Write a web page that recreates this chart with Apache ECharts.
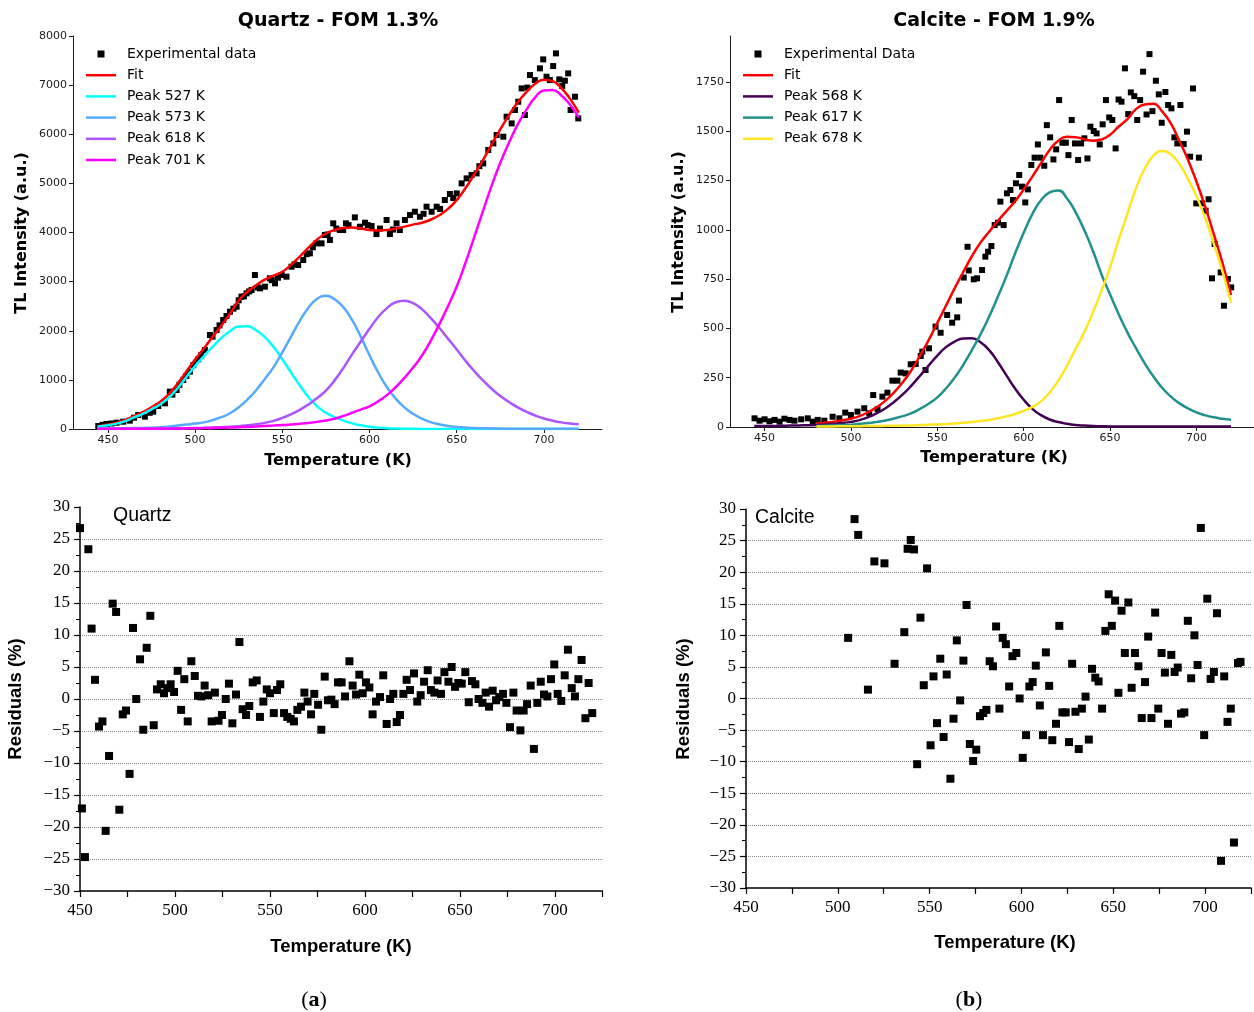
<!DOCTYPE html>
<html>
<head>
<meta charset="utf-8">
<script src="https://cdn.jsdelivr.net/npm/echarts@6/dist/echarts.min.js"></script>
<style>html,body{margin:0;padding:0;background:#fff}#chart{width:1254px;height:1012px}</style>
</head>
<body>
<div id="chart"></div>
<script>
// ---------- Temperature grid for the fitted curves (K) ----------
const T = [444,450,455,460,465,470,475,480,485,490,495,500,505,510,515,520,525,530,535,540,545,550,555,560,565,570,575,580,585,590,595,600,605,610,615,620,625,630,635,640,645,650,655,660,665,670,675,680,685,690,695,700,705,710,715,720];
const T2 = [480,485,490,495,500,505,510,515,520,525,530,535,540,545,550,555,560,565,570,575,580,585,590,595,600,605,610,615,620,625,630,635,640,645,650,655,660,665,670,675,680,685,690,695,700,705,710,715,720];

// ---------- Quartz TL curves ----------
const qFit = [57,91,128,183,263,344,443,553,712,926,1170,1415,1637,1872,2103,2345,2614,2798,2926,3040,3120,3200,3340,3510,3690,3860,3980,4050,4090,4100,4080,4050,4040,4050,4080,4120,4160,4200,4260,4350,4480,4660,4900,5180,5470,5790,6100,6390,6650,6860,7030,7110,7080,6940,6720,6440];
const qPeak527 = [45,75,110,160,235,310,400,500,640,830,1060,1280,1480,1670,1850,1990,2085,2090,2010,1870,1670,1420,1150,890,650,460,330,240,170,115,75,45,28,17,10,6,4,2,2,1,1,1,1,1,1,1,1,1,1,1,1,1,1,1,1,1];
const qPeak573 = [8,10,12,15,18,22,28,35,50,70,90,110,135,180,240,320,440,600,790,1020,1260,1560,1880,2200,2470,2650,2710,2640,2480,2220,1880,1500,1150,850,620,440,310,210,140,95,62,42,30,20,15,10,8,6,5,5,4,4,3,3,3,3];
const qPeak618 = [2,3,3,4,5,6,8,10,12,14,17,20,24,30,37,45,58,75,95,125,165,225,300,390,500,630,780,990,1240,1520,1780,2040,2280,2460,2580,2610,2560,2440,2260,2060,1840,1620,1390,1180,990,820,670,550,440,350,275,215,170,135,110,95];
const qPeak701 = [2,3,3,4,5,6,7,8,10,12,13,15,18,22,26,30,36,43,51,60,69,80,92,107,124,145,172,210,265,330,395,460,565,690,850,1040,1250,1490,1790,2130,2500,2900,3380,3900,4430,4950,5420,5830,6200,6500,6750,6890,6900,6790,6600,6340];

// ---------- Calcite TL curves ----------
const cPeak568 = [5,5,5,6,7,8,9,10,13,16,20,26,35,50,70,95,127,165,210,260,312,362,405,433,449,450,430,390,330,262,195,138,92,60,38,25,16,10,7,5,4,3,2,2,2,2,2,2,2,2,2,2,2,2,2,2];
const cPeak617 = [5,6,8,10,12,16,20,26,33,43,55,70,92,118,150,195,250,315,390,470,560,660,765,880,985,1080,1150,1190,1200,1160,1090,1000,895,775,672,572,480,400,324,257,200,155,121,95,74,60,49,42,37];
const cPeak678 = [3,3,3,4,4,4,5,5,6,6,7,8,10,11,13,15,18,21,25,30,36,44,54,66,82,102,130,175,235,310,395,480,580,690,810,950,1080,1210,1310,1375,1400,1385,1335,1260,1170,1060,930,790,630];
const cFit = [18,22,27,34,42,55,75,101,134,176,227,288,362,441,528,615,703,786,866,935,990,1045,1095,1145,1205,1270,1338,1405,1452,1472,1470,1460,1452,1458,1482,1524,1562,1612,1636,1639,1602,1542,1453,1357,1244,1119,979,834,669];

// ---------- Experimental data (T [K], TL [a.u.]) ----------
const qExp = [[444.5,61],[447,85],[449.2,102],[452,112],[455,129],[458.8,149],[462.6,170],[465,230],[467.4,285],[471.2,251],[474,330],[476,353],[478.9,468],[482.7,522],[485.5,760],[487,700],[489.4,794],[491,900],[493.2,997],[495,1080],[497,1167],[499,1300],[501.8,1418],[503.5,1500],[505.6,1608],[508.5,1913],[510,1880],[512.3,2015],[514,2110],[516.1,2219],[518,2300],[520,2388],[522,2450],[523.8,2490],[525,2620],[526.6,2694],[528,2700],[529.5,2761],[531,2800],[532.4,2829],[534.3,3135],[536,2880],[537.2,2863],[540,2897],[542.9,3067],[544,3030],[545.8,2965],[547.5,3080],[549.6,3135],[552.4,3101],[555.3,3304],[557,3350],[559.1,3338],[562,3440],[564,3560],[565.8,3576],[567.5,3700],[569.6,3779],[572.5,3779],[574.4,3949],[576,3960],[577.3,3847],[579.2,4186],[581,4080],[583,4051],[584.9,4050],[586.5,4186],[588,4150],[591.6,4308],[594.5,4118],[597.4,4199],[599,4150],[601.2,4131],[604,3968],[606,4080],[609.8,4254],[611.7,3968],[613.5,4060],[615.5,4186],[617.4,4050],[620.3,4254],[623.2,4355],[626,4423],[628.9,4321],[631,4380],[632.7,4525],[635.6,4423],[638.5,4525],[640.5,4480],[643.2,4661],[646.1,4783],[648,4700],[650,4796],[652.8,5000],[655.7,5102],[658.5,5170],[661.4,5203],[663,5350],[665.2,5407],[668.1,5679],[671,5814],[672.9,5984],[676.7,5950],[678.6,6357],[681.5,6221],[683.4,6493],[685.3,6662],[687.2,6934],[689.1,6391],[690.5,6950],[692,7205],[694.8,7103],[697.7,7341],[699.6,7524],[701.5,7171],[703.4,7103],[705.3,7388],[706.9,7646],[708.8,7117],[710.5,6980],[712,7090],[713.9,7239],[715.3,6493],[717.8,6764],[719.7,6323]];
const cExp = [[444.2,44],[447.1,32],[450,39],[452.9,29],[455.8,36],[458.7,27],[461.5,42],[464.4,36],[467.3,32],[471.2,39],[475,44],[477.9,27],[480.8,36],[484.6,32],[489.4,52],[493.3,44],[496.7,73],[500,61],[503.8,78],[507.7,95],[510.6,69],[512.9,162],[515.4,90],[518.2,154],[521.1,174],[524,235],[526.9,235],[528.8,276],[531.7,272],[534.6,318],[537.5,320],[540.4,360],[541.3,382],[543.2,289],[545.2,399],[549,509],[551.9,478],[555.7,568],[558.6,529],[561.5,556],[562.5,641],[565.3,758],[567.5,914],[568.2,794],[571.1,749],[573,754],[575.9,796],[577.8,864],[579.4,889],[581.3,918],[583.2,1024],[585.1,1036],[586.5,1143],[588.4,1024],[590.3,1185],[592.3,1202],[593.8,1151],[595.5,1236],[597.4,1278],[599,1219],[600.9,1139],[602.4,1205],[604.4,1329],[606.3,1366],[608.2,1433],[609.6,1366],[611.9,1325],[613.4,1531],[615.3,1469],[617.2,1357],[618.8,1408],[620.5,1658],[622.4,1442],[624.4,1442],[625.9,1379],[627.8,1557],[629.7,1438],[631.5,1354],[633.2,1438],[635.1,1464],[636.9,1362],[638.6,1523],[640.5,1501],[642.2,1489],[644,1433],[645.7,1535],[647.6,1658],[649.5,1570],[651.3,1557],[653.2,1413],[654.9,1661],[656.6,1650],[658.6,1819],[660.5,1587],[662,1697],[664,1678],[665.7,1557],[667.4,1658],[669.1,1802],[671.1,1585],[672.8,1891],[674.5,1602],[676.5,1756],[678.2,1687],[679.9,1543],[682,1699],[683.6,1633],[685.5,1616],[687.2,1469],[688.9,1438],[690.7,1633],[692.6,1435],[694.5,1498],[696.3,1371],[698,1717],[699.9,1134],[701.4,1366],[703.2,1134],[705.3,1097],[707,1155],[709,754],[710.5,928],[714,784],[715.9,615],[718.2,751],[720.1,708]];

// ---------- Residuals (T [K], %) ----------
const qRes = [[450,26.7],[451,-17.1],[452.6,-24.7],[454.4,23.4],[456.1,11.0],[457.9,3.0],[460,-4.3],[461.8,-3.5],[463.5,-20.6],[465.3,-8.9],[467.2,14.9],[469,13.6],[470.7,-17.3],[472.5,-2.4],[474.2,-1.8],[476.1,-11.7],[477.9,11.1],[479.6,0.0],[481.6,6.2],[483.3,-4.8],[485.1,8.0],[487,13.0],[488.8,-4.1],[490.5,1.5],[492.5,2.3],[494.2,0.9],[496,1.7],[497.7,2.3],[499.5,1.1],[501.4,4.4],[503.2,-1.7],[504.9,3.1],[506.7,-3.5],[508.6,5.9],[510.4,3.6],[512.1,0.5],[513.9,0.4],[515.6,2.1],[517.5,0.6],[519.3,-3.5],[521,1.0],[522.9,-3.4],[524.7,-2.5],[526.7,0.0],[528.4,2.4],[530.2,-3.8],[532.1,0.7],[533.9,8.9],[535.6,-1.6],[537.4,-2.5],[539.1,-1.1],[540.9,2.6],[543,2.9],[544.7,-2.8],[546.5,-0.4],[548.3,1.5],[550,0.9],[552,-2.2],[553.7,1.4],[555.4,2.3],[557.4,-2.2],[559.1,-2.8],[560.9,-3.1],[562.6,-3.5],[564.4,-1.7],[566.3,-1.2],[568.1,1.0],[569.8,-0.4],[571.6,-2.4],[573.3,0.8],[575.3,-0.9],[577,-4.8],[578.8,3.5],[580.5,-0.2],[582.3,-0.1],[584,-0.8],[585.8,2.6],[587.7,2.6],[589.5,0.4],[591.8,5.9],[593.5,2.1],[595.3,0.7],[597,3.8],[598.8,0.9],[600.5,2.6],[602.3,1.8],[604,-2.4],[605.8,-0.4],[607.9,0.3],[609.6,3.7],[611.4,-3.9],[613.2,0],[614.9,0.8],[616.7,-3.6],[618.4,-2.5],[620.2,0.8],[621.9,3.0],[623.7,1.4],[625.8,4.0],[627.5,-0.4],[629.3,0.6],[631.1,2.7],[633,4.5],[634.7,1.4],[636.5,1.0],[638.2,2.9],[640,0.8],[641.8,4.2],[643.9,2.7],[645.6,5.0],[647.4,1.9],[649.1,2.5],[650.9,2.4],[652.8,4.2],[654.6,-0.5],[656.3,2.8],[658.1,2.3],[659.8,0],[661.8,-0.6],[663.5,1.0],[665.3,-1.2],[667.2,1.3],[669,-0.2],[670.7,0.3],[672.6,0.8],[674.4,-0.6],[676.3,-4.4],[678.1,1.0],[679.8,-1.8],[681.8,-4.9],[683.5,-1.8],[685.3,-0.8],[687.2,2.1],[688.9,-7.8],[690.7,-0.6],[692.5,2.7],[694.2,0.7],[696,0.4],[697.9,3.1],[699.6,5.4],[701.4,0.8],[703.3,-0.3],[705.1,3.7],[706.8,7.7],[708.8,1.7],[710.5,0.4],[712.3,3.1],[714,6.1],[716,-3.0],[717.7,2.5],[719.6,-2.2]];
const cRes = [[505.6,9.6],[509.1,28.4],[511.1,25.9],[516.4,1.4],[519.9,21.7],[525.4,21.4],[530.9,5.5],[536.2,10.5],[538,23.7],[539.7,25.1],[541.5,23.6],[543.2,-10.4],[545,12.8],[546.8,2.1],[548.6,20.6],[550.5,-7.4],[552.1,3.5],[554,-3.9],[555.8,6.3],[557.6,-6.1],[559.3,3.8],[561.3,-12.7],[563,-3.2],[564.8,9.2],[566.6,-0.3],[568.4,6.0],[570.1,14.8],[571.9,-7.2],[573.7,-9.9],[575.4,-8.1],[577.4,-2.8],[579.2,-2.3],[580.9,-1.8],[582.7,5.9],[584.5,5.1],[586.2,11.4],[588,-1.6],[589.8,9.6],[591.5,8.6],[593.3,1.9],[595.1,6.7],[597.2,7.2],[599,0],[600.7,-9.4],[602.5,-5.8],[604.3,1.9],[606.1,2.6],[607.8,5.2],[610,-1.1],[611.7,-5.8],[613.3,7.3],[615.1,2.0],[616.8,-6.6],[618.8,-4.0],[620.6,11.5],[622.3,-2.2],[624.1,-2.2],[625.9,-6.9],[627.6,5.5],[629.4,-2.1],[631.2,-8.0],[632.9,-1.6],[634.9,0.3],[636.7,-6.5],[638.4,4.7],[640.2,3.3],[642,2.7],[643.9,-1.6],[645.7,10.7],[647.5,16.5],[649.2,11.5],[651,15.5],[652.8,0.9],[654.5,13.9],[656.3,7.2],[658.2,15.2],[660,1.7],[661.8,7.2],[663.7,5.1],[665.5,-3.1],[667.3,2.6],[669,9.8],[670.8,-3.1],[672.8,13.6],[674.5,-1.6],[676.3,7.2],[678.1,4.1],[679.8,-4.0],[681.6,6.9],[683.4,4.2],[685.1,4.9],[686.9,-2.4],[688.7,-2.2],[690.6,12.3],[692.4,3.2],[694.2,10.0],[695.9,5.3],[697.7,27.0],[699.5,-5.8],[701.2,15.8],[703,3.1],[704.8,4.2],[706.5,13.5],[708.7,-25.7],[710.4,3.5],[712.2,-3.7],[714,-1.6],[715.7,-22.8],[717.9,5.6],[719.3,5.8]];

// ---------- Tick labels ----------
const topXTicks = [450,500,550,600,650,700];
const calciteYTicks = [0,250,500,750,1000,1250,1500,1750];

const pairs = (xs, ys) => xs.map((x, i) => [x, ys[i]]);

const DJ = 'DejaVu Sans';
const AXC = '#1a1a1a';
const plain = v => String(v);
function topX(i) {
  return {type:'value', gridIndex:i, min:430, max:733.3,
    axisLine:{show:true, onZero:false, lineStyle:{color:AXC, width:1}},
    axisTick:{show:true, length:4, customValues:topXTicks, lineStyle:{color:AXC}},
    axisLabel:{customValues:topXTicks, formatter:plain, fontSize:11, color:AXC, fontFamily:DJ, margin:6},
    splitLine:{show:false}};
}
function botX(i) {
  return {type:'value', gridIndex:i, min:450, max:725, interval:25,
    axisLine:{show:true, onZero:false, lineStyle:{color:'#000', width:1.5}},
    axisTick:{show:true, length:6, lineStyle:{color:'#000', width:1.2}},
    axisLabel:{formatter:v => (v % 50 === 0 ? String(v) : ''), fontFamily:'Liberation Serif', fontSize:17, color:'#000', margin:11},
    splitLine:{show:false}};
}
function botY(i) {
  return {type:'value', gridIndex:i, min:-30, max:30, interval:5,
    axisLine:{show:true, onZero:false, lineStyle:{color:'#000', width:1.5}},
    axisTick:{show:true, length:6, lineStyle:{color:'#000', width:1.2}},
    minorTick:{show:true, splitNumber:2, length:4, lineStyle:{color:'#000', width:1}},
    axisLabel:{formatter:v => String(v).replace('-', '\u2212'), fontFamily:'Liberation Serif', fontSize:17, color:'#000', margin:10},
    splitLine:{show:true, showMinLine:false, showMaxLine:false, lineStyle:{type:'dotted', color:'#8a8a8a', width:1}}};
}
function curve(name, xs, ys, color, xi) {
  return {type:'line', name, xAxisIndex:xi, yAxisIndex:xi, data:pairs(xs, ys), smooth:0.5,
    symbol:'none', color, lineStyle:{color, width:2.5}, silent:true};
}
const sqIcon = 'path://M0 0M30 14M11.5 3.5L18.5 3.5L18.5 10.5L11.5 10.5Z';
const lineIcon = 'path://M0 0M30 14M0 5.75L30 5.75L30 8.25L0 8.25Z';
const li = name => ({name, icon:lineIcon});
const legendBase = {orient:'vertical', itemWidth:30, itemHeight:14, itemGap:7.2, padding:0, selectedMode:false,
  textStyle:{fontSize:14, fontFamily:DJ, color:'#000', padding:[0,0,0,6]}};

function txt(text, x, y, font, rot) {
  return {type:'text', x, y, rotation:rot || 0, silent:true,
    style:{text, font, fill:'#000', align:'center', verticalAlign:'middle'}};
}
const sq = {color:'#000', opacity:1};

const chart = echarts.init(document.getElementById('chart'));
chart.setOption({
  animation:false,
  backgroundColor:'#fff',
  grid:[
    {left:73, top:36, width:529, height:393},
    {left:730, top:36, width:526, height:391},
    {left:80, top:507, width:522.5, height:384},
    {left:746, top:509, width:518, height:379}
  ],
  xAxis:[topX(0), topX(1), botX(2), botX(3)],
  yAxis:[
    {type:'value', gridIndex:0, min:0, max:8000, interval:1000,
      axisLine:{show:true, lineStyle:{color:AXC}}, axisTick:{show:true, length:4, lineStyle:{color:AXC}},
      axisLabel:{formatter:plain, fontSize:11, color:AXC, fontFamily:DJ, margin:6}, splitLine:{show:false}},
    {type:'value', gridIndex:1, min:0, max:1983,
      axisLine:{show:true, lineStyle:{color:AXC}}, axisTick:{show:true, length:4, customValues:calciteYTicks, lineStyle:{color:AXC}},
      axisLabel:{customValues:calciteYTicks, formatter:plain, fontSize:11, color:AXC, fontFamily:DJ, margin:6}, splitLine:{show:false}},
    botY(2), botY(3)
  ],
  legend:[
    Object.assign({left:86, top:47, data:[{name:'Experimental data', icon:sqIcon}, li('Fit'), li('Peak 527 K'), li('Peak 573 K'), li('Peak 618 K'), li('Peak 701 K')]}, legendBase),
    Object.assign({left:743, top:47, data:[{name:'Experimental Data', icon:sqIcon}, li('Fit'), li('Peak 568 K'), li('Peak 617 K'), li('Peak 678 K')]}, legendBase)
  ],
  series:[
    {type:'scatter', name:'Experimental data', xAxisIndex:0, yAxisIndex:0, data:qExp, symbol:'rect', symbolSize:6, color:'#000', itemStyle:sq},
    curve('Fit', T, qFit, '#ff0000', 0),
    curve('Peak 527 K', T, qPeak527, '#00ffff', 0),
    curve('Peak 573 K', T, qPeak573, '#55aaff', 0),
    curve('Peak 618 K', T, qPeak618, '#aa55ff', 0),
    curve('Peak 701 K', T, qPeak701, '#ff00ff', 0),

    {type:'scatter', name:'Experimental Data', xAxisIndex:1, yAxisIndex:1, data:cExp, symbol:'rect', symbolSize:6, color:'#000', itemStyle:sq},
    curve('Fit', T2, cFit, '#ff0000', 1),
    curve('Peak 568 K', T, cPeak568, '#440154', 1),
    curve('Peak 617 K', T2, cPeak617, '#21918c', 1),
    curve('Peak 678 K', T2, cPeak678, '#fde725', 1),

    {type:'scatter', name:'Quartz residuals', xAxisIndex:2, yAxisIndex:2, data:qRes, symbol:'rect', symbolSize:8, clip:false, itemStyle:sq},
    {type:'scatter', name:'Calcite residuals', xAxisIndex:3, yAxisIndex:3, data:cRes, symbol:'rect', symbolSize:8, clip:false, itemStyle:sq}
  ],
  graphic:[
    txt('Quartz - FOM 1.3%', 338, 21, 'bold 19px "DejaVu Sans"'),
    txt('Calcite - FOM 1.9%', 994, 21, 'bold 19px "DejaVu Sans"'),
    txt('Temperature (K)', 338, 461, 'bold 16px "DejaVu Sans"'),
    txt('Temperature (K)', 994, 458, 'bold 16px "DejaVu Sans"'),
    txt('TL Intensity (a.u.)', 22, 233, 'bold 16px "DejaVu Sans"', Math.PI / 2),
    txt('TL Intensity (a.u.)', 679, 232, 'bold 16px "DejaVu Sans"', Math.PI / 2),
    txt('Temperature (K)', 341, 947, 'bold 18.5px "Liberation Sans"'),
    txt('Temperature (K)', 1005, 943, 'bold 18.5px "Liberation Sans"'),
    txt('Residuals (%)', 16, 699, 'bold 18.5px "Liberation Sans"', Math.PI / 2),
    txt('Residuals (%)', 684, 699, 'bold 18.5px "Liberation Sans"', Math.PI / 2),
    {type:'text', x:113, y:516, silent:true, style:{text:'Quartz', font:'19.5px "Liberation Sans"', fill:'#000', align:'left', verticalAlign:'middle'}},
    {type:'text', x:755, y:518, silent:true, style:{text:'Calcite', font:'19.5px "Liberation Sans"', fill:'#000', align:'left', verticalAlign:'middle'}},
    {type:'text', x:314, y:1000, silent:true, style:{text:'{n|(}{b|a}{n|)}', align:'center', verticalAlign:'middle',
      rich:{n:{font:'22px "Liberation Serif"', fill:'#000'}, b:{font:'bold 22px "Liberation Serif"', fill:'#000'}}}},
    {type:'text', x:969, y:1000, silent:true, style:{text:'{n|(}{b|b}{n|)}', align:'center', verticalAlign:'middle',
      rich:{n:{font:'22px "Liberation Serif"', fill:'#000'}, b:{font:'bold 22px "Liberation Serif"', fill:'#000'}}}}
  ]
});
</script>
</body>
</html>
